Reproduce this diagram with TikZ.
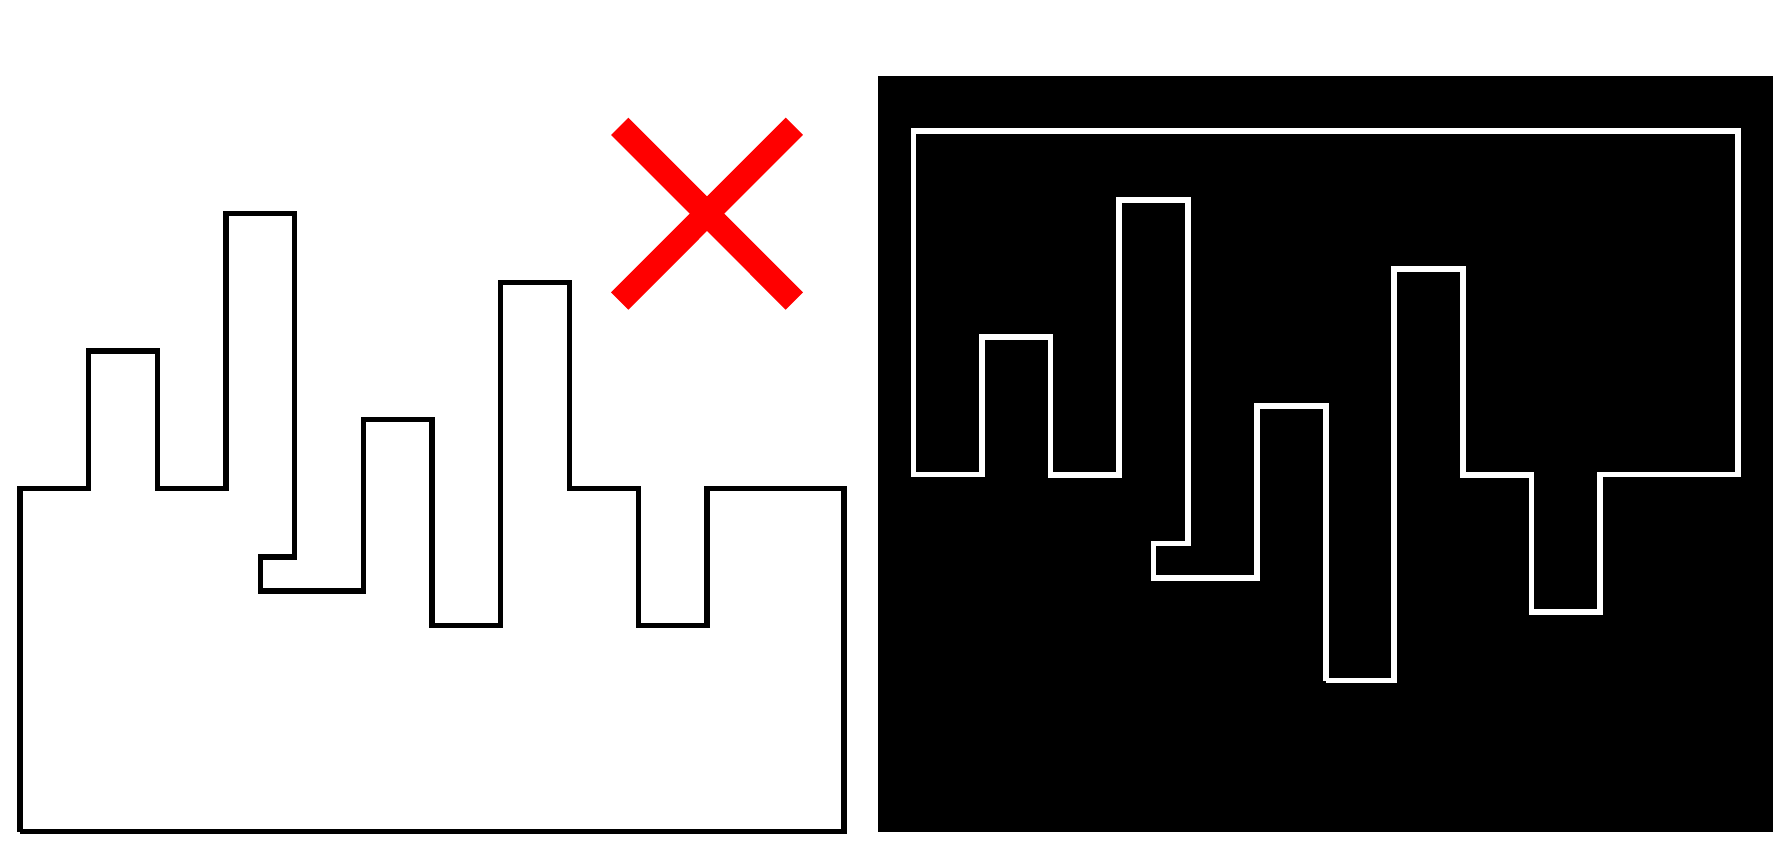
\documentclass[tikz,border=0pt]{standalone}
\begin{document}
\begin{tikzpicture}[x=1pt,y=-1pt,
  blackline/.style={draw=black,line width=5.4pt,line cap=butt,line join=miter},
  whiteline/.style={draw=white,line width=5.6pt,line cap=butt,line join=miter},
  redbar/.style={draw=red,line width=24.5pt,line cap=butt}]
\useasboundingbox (0,0) rectangle (1790,852);
% left outline
\draw[blackline] (20,831.5) -- (20,488.3) -- (88.7,488.3) -- (88.7,351) -- (157.3,351) -- (157.3,488.3)
  -- (226,488.3) -- (226,213.7) -- (294.7,213.7) -- (294.7,557) -- (260.7,557) -- (260.7,591)
  -- (363.3,591) -- (363.3,419.7) -- (432,419.7) -- (432,625.7) -- (500.7,625.7) -- (500.7,282.3)
  -- (569.3,282.3) -- (569.3,488.3) -- (638.3,488.3) -- (638.3,625.7) -- (707,625.7) -- (707,488.3)
  -- (844,488.3) -- (844,831.5) -- (20,831.5);
% red cross
\draw[redbar] (619.7,301) -- (794.3,126.3);
\draw[redbar] (619.7,126.3) -- (794.3,301);
% black panel
\fill[black] (878,76) rectangle (1773,832);
% white outline
\draw[whiteline] (1325.8,680.5) -- (1394.2,680.5) -- (1394.2,268.8) -- (1463.2,268.8) -- (1463.2,474.8)
  -- (1531.5,474.8) -- (1531.5,611.8) -- (1600.2,611.8) -- (1600.2,474.6) -- (1737.7,474.6)
  -- (1737.7,131.2) -- (913.5,131.2) -- (913.5,474.6) -- (981.8,474.6) -- (981.8,337.2)
  -- (1050.6,337.2) -- (1050.6,474.8) -- (1119.2,474.8) -- (1119.2,200.2) -- (1188.2,200.2)
  -- (1188.2,543.3) -- (1153.5,543.3) -- (1153.5,577.8) -- (1256.8,577.8) -- (1256.8,406)
  -- (1325.8,406) -- (1325.8,680.5);
\end{tikzpicture}
\end{document}
